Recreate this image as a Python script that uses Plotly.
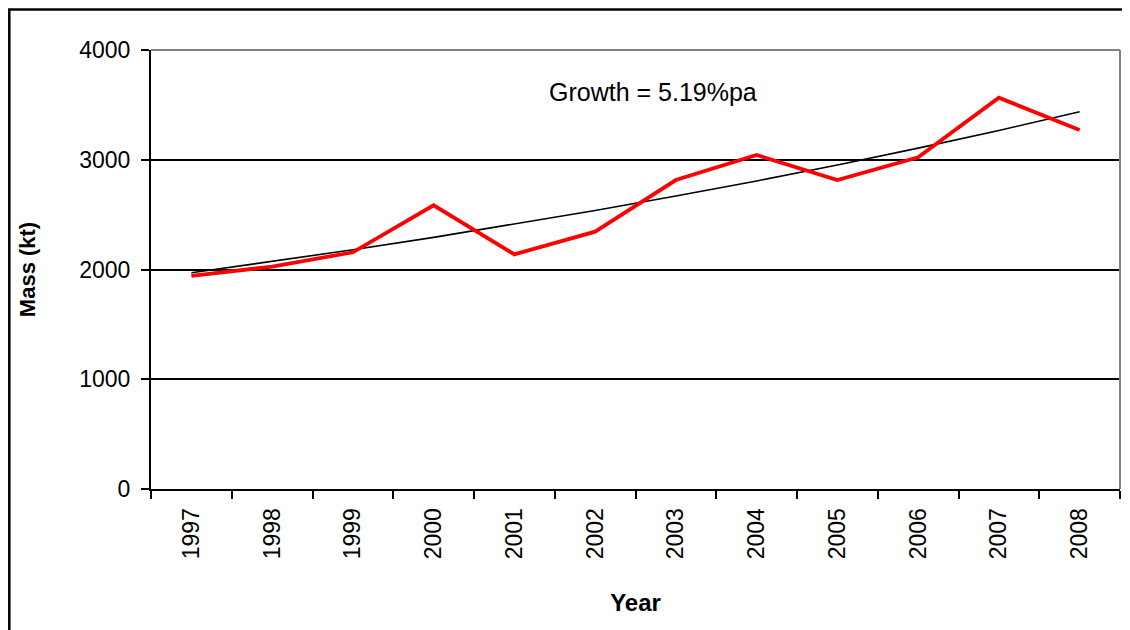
import plotly.graph_objects as go

years = ["1997", "1998", "1999", "2000", "2001", "2002", "2003", "2004", "2005", "2006", "2007", "2008"]
mass_kt = [1941, 2026, 2157, 2585, 2138, 2345, 2815, 3043, 2815, 3022, 3565, 3271]
trend_kt = [1970, 2072, 2180, 2293, 2412, 2537, 2669, 2807, 2953, 3106, 3267, 3437]
y_ticks = [0, 1000, 2000, 3000, 4000]
growth_label = "Growth = 5.19%pa"

FONT = "Liberation Sans, Arial, sans-serif"

fig = go.Figure()
fig.add_trace(go.Scatter(x=years, y=trend_kt, mode="lines",
                         line=dict(color="black", width=1.6), showlegend=False))
fig.add_trace(go.Scatter(x=years, y=mass_kt, mode="lines",
                         line=dict(color="#FF0000", width=3.8), showlegend=False))

OFF = 8  # page offset
L, R, T, B = 151 - OFF, 1120 - OFF, 50 - OFF, 489 - OFF
W, H = 1130, 630
pw, ph = R - L, B - T

def px(x):
    return (x - OFF - L) / pw

def py(y):
    return (B - (y - OFF)) / ph

fig.update_layout(
    width=W, height=H,
    margin=dict(l=L, r=W - R, t=T, b=H - B),
    paper_bgcolor="white", plot_bgcolor="white",
    font=dict(family=FONT, color="black", size=23),
    xaxis=dict(
        type="category", tickson="boundaries", ticks="outside", ticklen=8,
        tickwidth=2, tickcolor="black", showline=True, linecolor="black", linewidth=2,
        showgrid=False, tickangle=-90, tickfont=dict(size=23, family=FONT),
        ticklabelstandoff=8,
        title=dict(text="<b>Year</b>", font=dict(size=24, family=FONT), standoff=36),
        range=[-0.5, 11.5],
    ),
    yaxis=dict(
        range=[0, 4000], tickvals=y_ticks, ticks="outside", ticklen=8, tickwidth=2,
        tickcolor="black", showline=True, linecolor="black", linewidth=2,
        showgrid=True, gridcolor="black", gridwidth=1.6, zeroline=False,
        tickfont=dict(size=23, family=FONT), ticklabelstandoff=6,
        title=dict(text="<b>Mass (kt)</b>", font=dict(size=22, family=FONT), standoff=38),
    ),
    shapes=[
        dict(type="line", xref="paper", yref="paper", x0=0, x1=1, y0=1, y1=1,
             line=dict(color="#808080", width=2), layer="above"),
        dict(type="line", xref="paper", yref="paper", x0=1, x1=1, y0=0, y1=1,
             line=dict(color="#808080", width=2), layer="above"),
        dict(type="rect", xref="paper", yref="paper",
             x0=px(9.3), x1=px(1150), y0=py(650), y1=py(9.5),
             line=dict(color="black", width=2.5), fillcolor="rgba(0,0,0,0)", layer="above"),
    ],
    annotations=[
        dict(text=growth_label, xref="paper", yref="paper", x=px(653), y=py(92),
             showarrow=False, font=dict(size=25, family=FONT), xanchor="center", yanchor="middle"),
    ],
)

fig.write_html("out.html")
